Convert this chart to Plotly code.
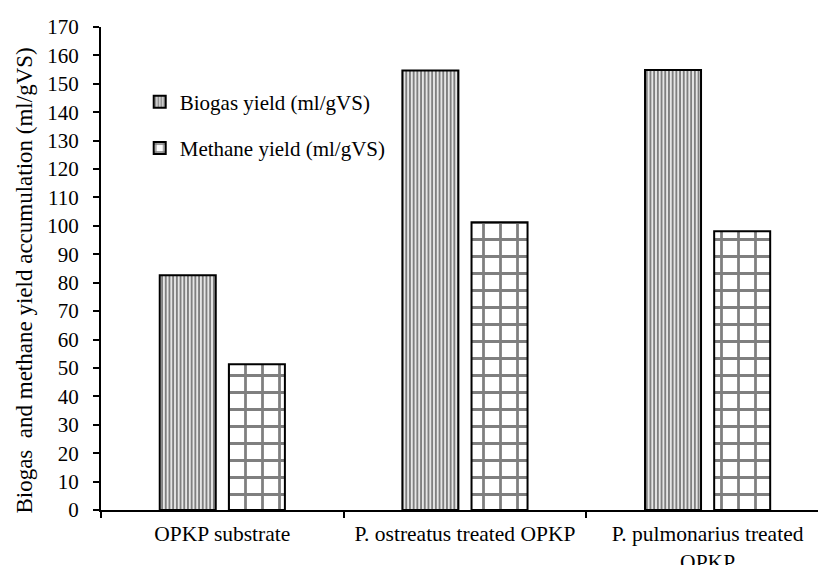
import plotly.graph_objects as go

categories = ["OPKP substrate", "P. ostreatus treated OPKP", "P. pulmonarius treated<br>OPKP"]
biogas = [82.6, 154.7, 154.9]
methane = [51.3, 101.3, 98.1]
y_ticks = list(range(0, 171, 10))

FONT = "Liberation Serif, Times New Roman, serif"

fig = go.Figure()
fig.add_trace(go.Bar(
    x=categories, y=biogas, name="Biogas yield (ml/gVS)",
    marker=dict(color="white", line=dict(color="black", width=2),
                pattern=dict(shape="|", size=3.7, solidity=0.6, fgcolor="black", bgcolor="white")),
    legendgroup="a",
))
fig.add_trace(go.Bar(
    x=categories, y=methane, name="Methane yield (ml/gVS)",
    marker=dict(color="white", line=dict(color="black", width=2),
                pattern=dict(shape="+", size=17, solidity=0.3, fgcolor="black", bgcolor="white")),
    legendgroup="b",
))

fig.update_layout(
    width=818, height=565,
    margin=dict(l=101, r=0, t=27, b=55, autoexpand=False),
    paper_bgcolor="white", plot_bgcolor="white",
    font=dict(family=FONT, size=21, color="black"),
    barmode="group", bargap=0.43, bargroupgap=0.19,
    showlegend=True,
    legend=dict(x=0.054, y=0.887, xanchor="left", yanchor="top",
                bgcolor="rgba(0,0,0,0)", traceorder="grouped", tracegroupgap=16,
                font=dict(family=FONT, size=21, color="black")),
    xaxis=dict(range=[-0.5, 2.455], showline=True, linecolor="black", linewidth=2,
               ticks="outside", tickson="boundaries", ticklen=6, tickwidth=2, tickcolor="black",
               showgrid=False, zeroline=False, ticklabelstandoff=3, automargin=False,
               tickfont=dict(family=FONT, size=21.5)),
    yaxis=dict(range=[0, 170], tickvals=y_ticks, showline=True, linecolor="black", linewidth=2,
               ticks="outside", ticklen=6, tickwidth=2, tickcolor="black",
               showgrid=False, zeroline=False, ticklabelstandoff=10, automargin=False,
               tickfont=dict(family=FONT, size=21)),
    annotations=[dict(text="Biogas  and methane yield accumulation (ml/gVS)",
                      xref="paper", yref="paper", x=-0.106, y=0.475,
                      xanchor="center", yanchor="middle", textangle=-90, showarrow=False,
                      font=dict(family=FONT, size=23, color="black"))],
)

fig.write_html("out.html", config={"displayModeBar": False},
               post_script="document.body.style.margin='0';document.body.style.overflow='hidden';")
